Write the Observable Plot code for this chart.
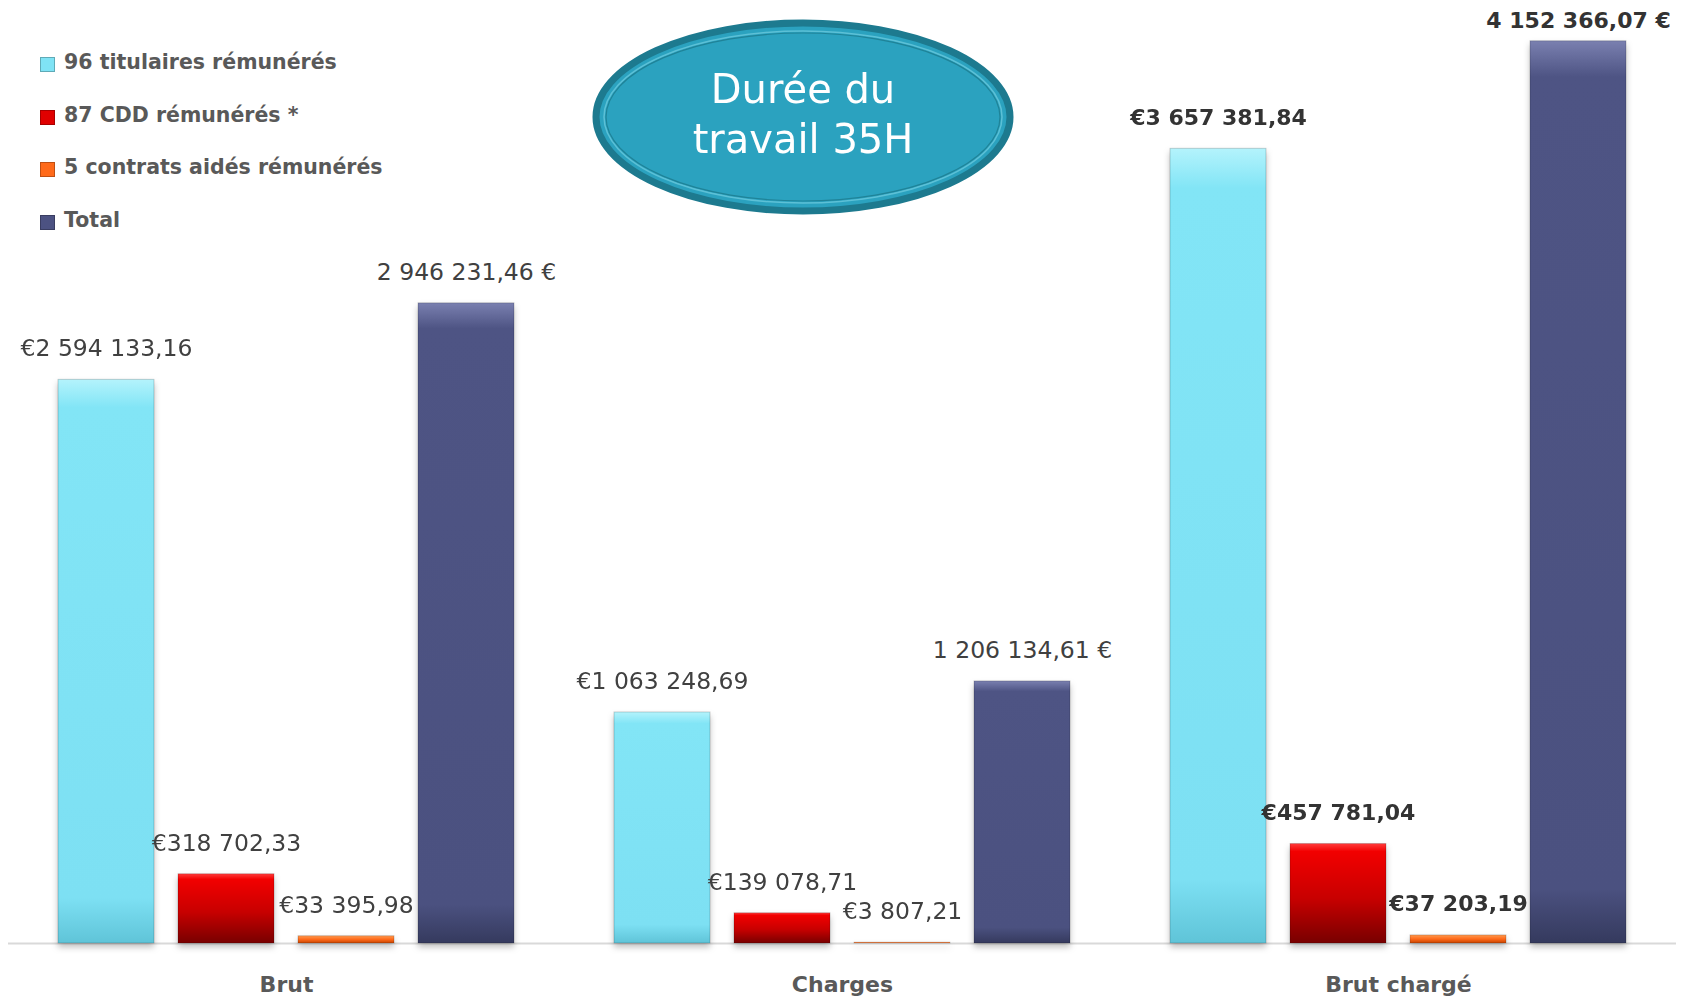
<!DOCTYPE html>
<html><head><meta charset="utf-8">
<script src="https://cdn.jsdelivr.net/npm/d3@7"></script>
<script src="https://cdn.jsdelivr.net/npm/@observablehq/plot@0.6"></script>
<style>
html,body{margin:0;padding:0;background:#fff;}
#wrap{position:relative;width:1681px;height:999px;font-family:"DejaVu Sans",sans-serif;overflow:hidden;}
#chart{position:absolute;left:0;top:0;}
#legend{position:absolute;left:0;top:0;}
.item{position:absolute;left:40px;white-space:nowrap;height:24px;line-height:24px;font-weight:bold;font-size:20.5px;color:#595959;}
.sw{position:absolute;left:0;top:7px;width:15px;height:15px;box-sizing:border-box;}
.lbl{position:absolute;left:24px;top:0;}
#title{position:absolute;left:0;top:0;pointer-events:none;}
</style>
</head><body>
<div id="wrap"><div id="chart"></div><div id="legend"></div><svg id="title" width="1681" height="260"></svg></div>
<script>
const groups = ["Brut", "Charges", "Brut chargé"];
const series = ["96 titulaires rémunérés", "87 CDD rémunérés *", "5 contrats aidés rémunérés", "Total"];
const titulaires = [2594133.16, 1063248.69, 3657381.84];
const cdd = [318702.33, 139078.71, 457781.04];
const aides = [33395.98, 3807.21, 37203.19];
const total = [2946231.46, 1206134.61, 4152366.07];
const titleLines = ["Durée du", "travail 35H"];

const seriesValues = [titulaires, cdd, aides, total];
const colors = ["#7fe3f5", "#e00000", "#ff6a1a", "#4c5282"];
const gradIds = ["gCyan", "gRed", "gOrange", "gNavy"];

const data = [];
groups.forEach((g, gi) => series.forEach((s, si) => data.push({group: g, series: s, value: seriesValues[si][gi]})));

const fr = d3.formatLocale({decimal: ",", thousands: " ", grouping: [3], currency: ["€", ""]}).format(",.2f");
const label = d => d.series === "Total" ? fr(d.value) + " €" : "€" + fr(d.value);

const plot = Plot.plot({
  width: 1681, height: 999,
  marginTop: 0, marginBottom: 56, marginLeft: 7, marginRight: 4,
  style: {fontFamily: "DejaVu Sans", fontSize: "22px", fontWeight: "bold", color: "#595959", background: "transparent"},
  fx: {domain: groups, padding: 0, axis: "bottom", tickSize: 0, tickPadding: 33, label: null},
  x: {domain: series, paddingInner: 0.2, paddingOuter: 0.4, axis: null},
  y: {domain: [0, 4340000], axis: null},
  color: {type: "ordinal", domain: series, range: gradIds.map(id => `url(#${id})`)},
  marks: [
    Plot.ruleY([0], {stroke: "#d9d9d9", strokeWidth: 2}),
    Plot.barY(data, {fx: "group", x: "series", y: "value", fill: "series", stroke: "rgba(0,0,0,0.18)", strokeWidth: 1}),
    Plot.text(data.filter(d => d.group !== "Brut chargé"), {fx: "group", x: "series", y: "value", text: label, dy: -31, lineAnchor: "middle", fontSize: 23.5, fontWeight: "normal", fill: "#404040"}),
    Plot.text(data.filter(d => d.group === "Brut chargé" && d.series !== "Total"), {fx: "group", x: "series", y: "value", text: label, dy: -31, lineAnchor: "middle", fontSize: 22, fontWeight: "bold", fill: "#333333"}),
    Plot.text(data.filter(d => d.group === "Brut chargé" && d.series === "Total"), {fx: "group", x: "series", y: "value", text: label, dy: -20, lineAnchor: "middle", fontSize: 22, fontWeight: "bold", fill: "#333333"})
  ]
});
document.getElementById("chart").appendChild(plot);

// gradients for bevelled bars
const svg = d3.select(plot);
const defs = svg.insert("defs", ":first-child");
const stops = [
  [["0%", "#b4f3fc"], ["5%", "#82e5f6"], ["92%", "#7de0f3"], ["100%", "#5fc4d8"]],
  [["0%", "#ff3a3a"], ["8%", "#f20000"], ["55%", "#c80000"], ["100%", "#780000"]],
  [["0%", "#ff9a50"], ["50%", "#ff6a1a"], ["100%", "#c84400"]],
  [["0%", "#7a80b0"], ["4%", "#4e5484"], ["94%", "#4b5180"], ["100%", "#353a5e"]]
];
gradIds.forEach((id, i) => {
  const lg = defs.append("linearGradient").attr("id", id).attr("x1", 0).attr("y1", 0).attr("x2", 0).attr("y2", 1);
  stops[i].forEach(([o, c]) => lg.append("stop").attr("offset", o).attr("stop-color", c));
});
svg.selectAll('g[aria-label="bar"]').style("filter", "drop-shadow(0px 4px 3px rgba(0,0,0,0.25))");

// legend
const leg = d3.select("#legend");
series.forEach((s, i) => {
  const it = leg.append("div").attr("class", "item").style("top", (50 + i * 52.7) + "px");
  it.append("div").attr("class", "sw").style("background", colors[i]).style("border", "1px solid rgba(0,0,0,0.25)");
  it.append("div").attr("class", "lbl").text(s);
});

// title ellipse
const t = d3.select("#title");
t.append("ellipse").attr("cx", 803).attr("cy", 117).attr("rx", 207).attr("ry", 94)
  .attr("fill", "#2ba2bf").attr("stroke", "#1d7a8f").attr("stroke-width", 7);
t.append("ellipse").attr("cx", 803).attr("cy", 117).attr("rx", 199).attr("ry", 86)
  .attr("fill", "none").attr("stroke", "#5cc0d6").attr("stroke-width", 1.5);
t.append("ellipse").attr("cx", 803).attr("cy", 117).attr("rx", 197).attr("ry", 84)
  .attr("fill", "none").attr("stroke", "#1f8398").attr("stroke-width", 1.2);
titleLines.forEach((line, i) => {
  t.append("text").attr("x", 803).attr("y", 89 + i * 50).attr("dy", "0.36em").attr("text-anchor", "middle")
    .attr("fill", "#ffffff").attr("font-family", "DejaVu Sans").attr("font-size", 40).text(line);
});
</script>
</body></html>
